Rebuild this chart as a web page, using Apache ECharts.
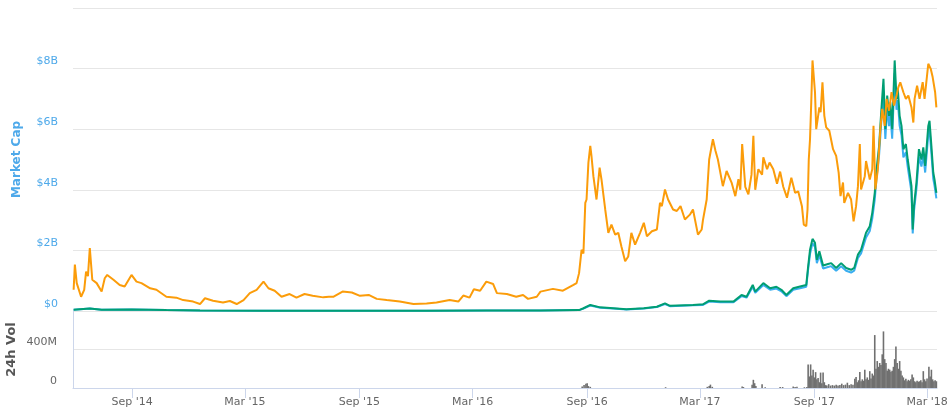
<!DOCTYPE html>
<html><head><meta charset="utf-8">
<script src="https://cdn.jsdelivr.net/npm/echarts@6/dist/echarts.min.js"></script>
<style>html,body{margin:0;padding:0;background:#fff}#c{width:950px;height:420px}</style>
</head><body><div id="c"></div>
<script>
// Price (BTC) — orange line, drawn on a hidden axis scaled like the market-cap axis (values in $B-equivalent)
const btcDates = ["2014-05-30","2014-06-01","2014-06-04","2014-06-11","2014-06-16","2014-06-19","2014-06-22","2014-06-25","2014-06-29","2014-07-06","2014-07-14","2014-07-19","2014-07-23","2014-08-02","2014-08-12","2014-08-20","2014-08-31","2014-09-08","2014-09-16","2014-09-30","2014-10-10","2014-10-26","2014-11-11","2014-11-22","2014-12-08","2014-12-19","2014-12-27","2015-01-09","2015-01-25","2015-02-05","2015-02-16","2015-02-27","2015-03-09","2015-03-20","2015-03-31","2015-04-08","2015-04-18","2015-04-29","2015-05-12","2015-05-23","2015-06-05","2015-06-18","2015-07-05","2015-07-14","2015-07-21","2015-08-05","2015-08-20","2015-09-02","2015-09-16","2015-09-29","2015-10-15","2015-11-05","2015-11-27","2015-12-18","2016-01-03","2016-01-24","2016-02-07","2016-02-15","2016-02-25","2016-03-03","2016-03-13","2016-03-23","2016-04-03","2016-04-09","2016-04-25","2016-05-10","2016-05-21","2016-05-29","2016-06-12","2016-06-18","2016-07-08","2016-07-24","2016-08-10","2016-08-15","2016-08-19","2016-08-23","2016-08-26","2016-08-29","2016-08-31","2016-09-03","2016-09-06","2016-09-08","2016-09-11","2016-09-16","2016-09-21","2016-09-24","2016-09-30","2016-10-05","2016-10-10","2016-10-16","2016-10-21","2016-10-26","2016-11-01","2016-11-06","2016-11-11","2016-11-17","2016-11-25","2016-12-01","2016-12-06","2016-12-14","2016-12-22","2016-12-27","2016-12-30","2017-01-04","2017-01-09","2017-01-17","2017-01-23","2017-01-29","2017-02-05","2017-02-13","2017-02-18","2017-02-26","2017-03-04","2017-03-06","2017-03-12","2017-03-16","2017-03-22","2017-03-26","2017-03-30","2017-04-07","2017-04-13","2017-04-21","2017-04-27","2017-05-02","2017-05-05","2017-05-08","2017-05-13","2017-05-18","2017-05-23","2017-05-26","2017-05-29","2017-06-03","2017-06-09","2017-06-11","2017-06-17","2017-06-21","2017-06-27","2017-07-03","2017-07-08","2017-07-13","2017-07-19","2017-07-26","2017-08-01","2017-08-06","2017-08-12","2017-08-15","2017-08-19","2017-08-21","2017-08-23","2017-08-25","2017-08-27","2017-08-29","2017-09-02","2017-09-04","2017-09-09","2017-09-11","2017-09-14","2017-09-17","2017-09-20","2017-09-25","2017-10-01","2017-10-06","2017-10-10","2017-10-13","2017-10-17","2017-10-19","2017-10-25","2017-10-30","2017-11-03","2017-11-07","2017-11-10","2017-11-13","2017-11-15","2017-11-21","2017-11-23","2017-11-29","2017-12-03","2017-12-05","2017-12-08","2017-12-12","2017-12-16","2017-12-19","2017-12-23","2017-12-26","2017-12-30","2018-01-03","2018-01-07","2018-01-11","2018-01-14","2018-01-17","2018-01-22","2018-01-26","2018-01-30","2018-02-04","2018-02-07","2018-02-09","2018-02-13","2018-02-17","2018-02-22","2018-02-25","2018-03-03","2018-03-07","2018-03-10","2018-03-14","2018-03-16"];
const btcValues = [0.70,1.53,0.92,0.47,0.70,1.30,1.15,2.08,1.03,0.92,0.64,1.08,1.19,1.03,0.86,0.81,1.19,0.97,0.92,0.75,0.70,0.47,0.44,0.36,0.31,0.23,0.42,0.34,0.28,0.33,0.23,0.36,0.59,0.70,0.97,0.75,0.67,0.47,0.56,0.44,0.56,0.50,0.45,0.47,0.47,0.64,0.61,0.50,0.53,0.40,0.36,0.31,0.23,0.25,0.28,0.36,0.31,0.51,0.44,0.72,0.67,0.97,0.89,0.59,0.56,0.47,0.53,0.40,0.47,0.64,0.73,0.67,0.86,0.92,1.25,2.02,1.90,3.57,3.68,4.90,5.45,5.10,4.45,3.68,4.73,4.34,3.35,2.58,2.85,2.52,2.58,2.13,1.64,1.80,2.58,2.19,2.58,2.91,2.47,2.63,2.69,3.57,3.46,4.01,3.68,3.35,3.30,3.46,3.02,3.18,3.35,2.52,2.69,3.00,3.68,5.00,5.67,5.30,5.00,4.12,4.62,4.24,3.79,4.35,4.00,5.51,4.10,3.85,4.50,5.78,4.00,4.68,4.50,5.07,4.68,4.90,4.68,4.20,4.60,4.10,3.74,4.40,3.90,3.95,3.46,2.85,2.80,3.35,5.00,5.67,6.90,8.27,7.22,6.00,6.72,6.56,7.55,6.44,6.06,5.95,5.34,5.12,4.57,3.79,4.24,3.57,3.90,3.68,2.96,3.46,4.12,5.51,4.01,4.45,4.95,4.34,4.68,6.11,4.01,4.68,6.00,6.67,6.11,7.00,6.61,7.22,6.78,7.11,7.39,7.55,7.22,7.00,7.11,6.72,6.22,7.00,7.44,7.00,7.55,7.00,8.16,7.99,7.72,7.22,6.72];

// Price (USD) — green line and Market Cap — blue line (same dates)
const capDates = ["2014-05-30","2014-06-25","2014-07-14","2014-08-31","2014-10-26","2014-12-19","2015-03-31","2015-09-01","2015-12-18","2016-03-23","2016-06-18","2016-08-19","2016-08-26","2016-09-06","2016-09-22","2016-10-13","2016-11-03","2016-12-01","2016-12-22","2017-01-04","2017-01-12","2017-02-18","2017-03-06","2017-03-16","2017-04-03","2017-04-24","2017-05-07","2017-05-15","2017-05-25","2017-05-29","2017-06-11","2017-06-22","2017-07-02","2017-07-10","2017-07-18","2017-07-29","2017-08-09","2017-08-19","2017-08-22","2017-08-25","2017-08-29","2017-09-02","2017-09-05","2017-09-09","2017-09-15","2017-09-23","2017-09-28","2017-10-06","2017-10-14","2017-10-22","2017-10-30","2017-11-04","2017-11-10","2017-11-15","2017-11-23","2017-11-29","2017-12-03","2017-12-07","2017-12-10","2017-12-14","2017-12-17","2017-12-21","2017-12-24","2017-12-27","2017-12-30","2018-01-01","2018-01-04","2018-01-08","2018-01-11","2018-01-13","2018-01-16","2018-01-19","2018-01-22","2018-01-26","2018-01-29","2018-02-04","2018-02-06","2018-02-08","2018-02-12","2018-02-16","2018-02-20","2018-02-23","2018-02-26","2018-03-03","2018-03-05","2018-03-08","2018-03-11","2018-03-13","2018-03-16"];
const usdValues = [0.04,0.08,0.04,0.05,0.03,0.02,0.01,0.01,0.005,0.02,0.02,0.03,0.09,0.20,0.12,0.09,0.06,0.09,0.14,0.25,0.17,0.20,0.22,0.34,0.31,0.31,0.53,0.47,0.86,0.64,0.92,0.75,0.80,0.70,0.53,0.75,0.81,0.86,1.47,2.02,2.38,2.25,1.69,1.97,1.50,1.55,1.58,1.42,1.58,1.42,1.36,1.42,1.86,2.02,2.58,2.80,3.24,3.90,4.68,5.45,6.44,7.66,6.00,7.11,6.44,6.89,6.00,8.27,7.00,7.33,6.44,6.11,5.34,5.51,5.00,4.12,2.69,3.46,4.24,5.34,5.00,5.40,4.79,6.11,6.28,5.45,4.57,4.34,3.90];
const capValues = [0.04,0.08,0.04,0.05,0.03,0.02,0.01,0.01,0.005,0.02,0.02,0.03,0.08,0.18,0.11,0.08,0.05,0.08,0.13,0.23,0.16,0.19,0.20,0.31,0.29,0.29,0.49,0.44,0.80,0.60,0.86,0.70,0.74,0.65,0.49,0.70,0.75,0.80,1.37,1.88,2.24,2.11,1.58,1.84,1.40,1.45,1.48,1.33,1.48,1.33,1.27,1.33,1.75,1.90,2.43,2.64,3.05,3.68,4.42,5.15,6.09,7.25,5.68,6.73,6.10,6.53,5.69,7.85,6.64,6.96,6.11,5.80,5.07,5.24,4.75,3.92,2.56,3.29,4.04,5.09,4.77,5.15,4.57,5.83,6.00,5.20,4.36,4.14,3.72];

// 24h volume (millions of USD)
const volDates = ["2016-08-24","2016-08-27","2016-08-30","2016-09-01","2016-09-03","2016-09-06","2017-01-05","2017-03-13","2017-03-16","2017-03-18","2017-03-21","2017-05-08","2017-05-10","2017-05-24","2017-05-26","2017-05-28","2017-05-30","2017-06-09","2017-06-14","2017-07-08","2017-07-12","2017-07-29","2017-08-01","2017-08-04","2017-08-16","2017-08-20","2017-08-22","2017-08-24","2017-08-26","2017-08-28","2017-08-30","2017-09-01","2017-09-03","2017-09-05","2017-09-07","2017-09-09","2017-09-11","2017-09-13","2017-09-15","2017-09-17","2017-09-19","2017-09-21","2017-09-24","2017-09-27","2017-09-30","2017-10-03","2017-10-06","2017-10-09","2017-10-12","2017-10-15","2017-10-18","2017-10-21","2017-10-24","2017-10-27","2017-10-30","2017-11-02","2017-11-05","2017-11-07","2017-11-09","2017-11-11","2017-11-13","2017-11-15","2017-11-17","2017-11-19","2017-11-21","2017-11-23","2017-11-25","2017-11-27","2017-11-29","2017-12-01","2017-12-03","2017-12-05","2017-12-07","2017-12-09","2017-12-11","2017-12-13","2017-12-15","2017-12-17","2017-12-19","2017-12-21","2017-12-23","2017-12-25","2017-12-27","2017-12-29","2017-12-31","2018-01-02","2018-01-04","2018-01-06","2018-01-08","2018-01-10","2018-01-12","2018-01-14","2018-01-16","2018-01-18","2018-01-20","2018-01-22","2018-01-24","2018-01-26","2018-01-28","2018-01-30","2018-02-01","2018-02-03","2018-02-05","2018-02-07","2018-02-09","2018-02-11","2018-02-13","2018-02-15","2018-02-17","2018-02-19","2018-02-21","2018-02-23","2018-02-25","2018-02-27","2018-03-01","2018-03-04","2018-03-06","2018-03-08","2018-03-10","2018-03-12","2018-03-14","2018-03-16"];
const volValues = [15,30,45,50,20,12,8,12,20,35,12,15,10,35,85,50,20,40,8,10,10,15,10,12,8,10,245,120,245,130,190,110,165,90,105,60,160,50,160,60,30,25,40,25,30,25,35,25,30,45,30,35,55,30,40,35,95,115,60,80,165,70,90,75,190,90,110,85,175,100,150,130,550,200,280,220,260,240,350,588,300,260,180,200,190,170,180,220,300,430,260,200,280,180,130,110,80,95,70,85,75,90,140,110,70,60,75,65,70,80,60,175,90,70,100,220,120,190,90,70,80,70];

// x-axis tick labels
const tickDates = ["2014-09-01","2015-03-01","2015-09-01","2016-03-01","2016-09-01","2017-03-01","2017-09-01","2018-03-01"];
const monthNames = ["Jan","Feb","Mar","Apr","May","Jun","Jul","Aug","Sep","Oct","Nov","Dec"];

const ts = s => { const p = s.split('-').map(Number); return Date.UTC(p[0], p[1]-1, p[2]); };
const pair = (d, v) => d.map((x, i) => [ts(x), v[i]]);
const tickVals = tickDates.map(ts);
const xMin = ts("2014-05-29"), xMax = ts("2018-03-17");
const FONT = '"Lucida Grande","DejaVu Sans",sans-serif';

const chart = echarts.init(document.getElementById('c'), null, {renderer: 'canvas'});
chart.setOption({
  animation: false,
  backgroundColor: '#fff',
  grid: [
    {left: 73, right: 13, top: 8, height: 303, containLabel: false, outerBoundsMode: 'none'},
    {left: 73, right: 13, top: 311, height: 77, containLabel: false, outerBoundsMode: 'none'}
  ],
  xAxis: [
    {type: 'value', gridIndex: 0, min: xMin, max: xMax, show: false, splitLine: {show: false}},
    {type: 'value', gridIndex: 1, min: xMin, max: xMax,
      axisLine: {show: true, lineStyle: {color: '#ccd6eb', width: 1}},
      axisTick: {show: true, length: 10, customValues: tickVals, lineStyle: {color: '#ccd6eb'}},
      axisLabel: {customValues: tickVals, color: '#666', fontSize: 11, fontFamily: FONT, margin: 9,
        formatter: v => { const d = new Date(v); return monthNames[d.getUTCMonth()] + " '" + String(d.getUTCFullYear()).slice(2); }},
      splitLine: {show: false}
    }
  ],
  yAxis: [
    {type: 'value', gridIndex: 0, min: 0, max: 10, interval: 2,
      name: 'Market Cap', nameLocation: 'middle', nameGap: 50, nameMoveOverlap: false,
      nameTextStyle: {color: '#4ea9ea', fontWeight: 'bold', fontSize: 12, fontFamily: FONT},
      axisLine: {show: false}, axisTick: {show: false},
      axisLabel: {showMaxLabel: false, color: '#4ea9ea', fontSize: 11, fontFamily: FONT, margin: 15,
        verticalAlign: 'bottom', lineHeight: 14,
        formatter: v => v === 0 ? '$0' : '$' + v + 'B'},
      splitLine: {lineStyle: {color: '#e6e6e6'}}
    },
    {type: 'value', gridIndex: 1, min: 0, max: 800, interval: 400,
      name: '24h Vol', nameLocation: 'middle', nameGap: 55, nameMoveOverlap: false,
      nameTextStyle: {color: '#555', fontWeight: 'bold', fontSize: 13, fontFamily: FONT},
      axisLine: {show: true, lineStyle: {color: '#ccd6eb'}}, axisTick: {show: false},
      axisLabel: {showMaxLabel: false, color: '#666', fontSize: 11, fontFamily: FONT, margin: 16,
        verticalAlign: 'bottom', lineHeight: 14,
        formatter: v => v === 0 ? '0' : v + 'M'},
      splitLine: {lineStyle: {color: '#e6e6e6'}}
    }
  ],
  series: [
    {name: 'Market Cap', type: 'line', xAxisIndex: 0, yAxisIndex: 0, data: pair(capDates, capValues),
      showSymbol: false, lineStyle: {color: '#3aaef0', width: 2}, itemStyle: {color: '#3aaef0'}, z: 2},
    {name: 'Price (USD)', type: 'line', xAxisIndex: 0, yAxisIndex: 0, data: pair(capDates, usdValues),
      showSymbol: false, lineStyle: {color: '#009e73', width: 2}, itemStyle: {color: '#009e73'}, z: 3},
    {name: 'Price (BTC)', type: 'line', xAxisIndex: 0, yAxisIndex: 0, data: pair(btcDates, btcValues),
      showSymbol: false, lineStyle: {color: '#fb9c0a', width: 2}, itemStyle: {color: '#fb9c0a'}, z: 4},
    {name: '24h Vol', type: 'bar', xAxisIndex: 1, yAxisIndex: 1, data: pair(volDates, volValues),
      barWidth: 1.6, itemStyle: {color: '#707070'}}
  ]
});
</script>
</body></html>
